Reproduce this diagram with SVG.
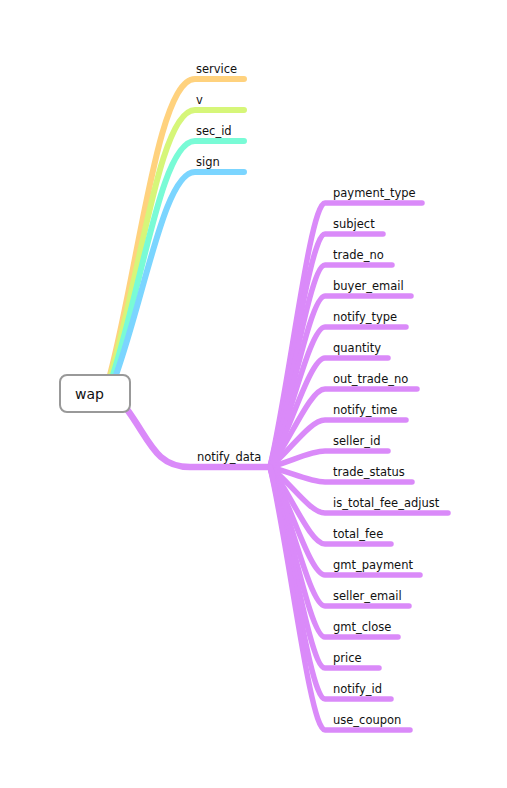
<svg xmlns="http://www.w3.org/2000/svg" width="507" height="788" viewBox="0 0 507 788">
<style>
.b{fill:none;stroke-linecap:round;stroke-linejoin:round}
.top{stroke-width:6}
.ch{stroke:#DA8AF9;stroke-width:5.5}
.nd{stroke:#DA8AF9;stroke-width:6.5}
text{font-family:"DejaVu Sans","Liberation Sans",sans-serif;font-size:11.5px;fill:#111}
.root{font-size:14px}
</style>
<rect width="507" height="788" fill="#fff"/>
<g id="connectors">
<path class="b top" stroke="#FFD27E" d="M110 375 C140 260,158 79,195 79 L244 79"/>
<path class="b top" stroke="#D6F679" d="M111 375 C141 270,160 110,195 110 L244 110"/>
<path class="b top" stroke="#79FBD6" d="M113 375 C143 280,162 141,195 141 L244 141"/>
<path class="b top" stroke="#7BD5FF" d="M116 375 C146 290,165 172,195 172 L244 172"/>
<path class="b nd" d="M126 408 C150 440,155 467,190 467 L270 467"/>
<path class="b ch" d="M270 467 C290 380,310 203,325 203 L422 203"/>
<path class="b ch" d="M270 467 C290 390,310 234,325 234 L383 234"/>
<path class="b ch" d="M270 467 C290 400,310 265,325 265 L392 265"/>
<path class="b ch" d="M270 467 C290 410,310 296,325 296 L411 296"/>
<path class="b ch" d="M270 467 C290 420,310 327,325 327 L406 327"/>
<path class="b ch" d="M270 467 C290 431,310 358,325 358 L388 358"/>
<path class="b ch" d="M270 467 C290 441,310 389,325 389 L417 389"/>
<path class="b ch" d="M270 467 C290 451,310 420,325 420 L406 420"/>
<path class="b ch" d="M270 467 C290 462,310 451,325 451 L388 451"/>
<path class="b ch" d="M270 467 C290 472,310 482,325 482 L412 482"/>
<path class="b ch" d="M270 467 C290 482,310 513,325 513 L448 513"/>
<path class="b ch" d="M270 467 C290 492,310 544,325 544 L391 544"/>
<path class="b ch" d="M270 467 C290 502,310 575,325 575 L420 575"/>
<path class="b ch" d="M270 467 C290 513,310 606,325 606 L409 606"/>
<path class="b ch" d="M270 467 C290 523,310 637,325 637 L398 637"/>
<path class="b ch" d="M270 467 C290 533,310 668,325 668 L379 668"/>
<path class="b ch" d="M270 467 C290 543,310 699,325 699 L391 699"/>
<path class="b ch" d="M270 467 C290 554,310 730,325 730 L410 730"/>
</g>
<g id="wap"><rect x="60" y="375" width="70" height="37" rx="7" fill="#fff" stroke="#999" stroke-width="2"/><text class="root" x="75" y="399">wap</text></g>
<g id="service"><text x="196" y="73">service</text></g>
<g id="v"><text x="196" y="104">v</text></g>
<g id="sec_id"><text x="196" y="135">sec_id</text></g>
<g id="sign"><text x="196" y="166">sign</text></g>
<g id="notify_data"><text x="197" y="461">notify_data</text></g>
<g id="payment_type"><text x="333" y="197">payment_type</text></g>
<g id="subject"><text x="333" y="228">subject</text></g>
<g id="trade_no"><text x="333" y="259">trade_no</text></g>
<g id="buyer_email"><text x="333" y="290">buyer_email</text></g>
<g id="notify_type"><text x="333" y="321">notify_type</text></g>
<g id="quantity"><text x="333" y="352">quantity</text></g>
<g id="out_trade_no"><text x="333" y="383">out_trade_no</text></g>
<g id="notify_time"><text x="333" y="414">notify_time</text></g>
<g id="seller_id"><text x="333" y="445">seller_id</text></g>
<g id="trade_status"><text x="333" y="476">trade_status</text></g>
<g id="is_total_fee_adjust"><text x="333" y="507">is_total_fee_adjust</text></g>
<g id="total_fee"><text x="333" y="538">total_fee</text></g>
<g id="gmt_payment"><text x="333" y="569">gmt_payment</text></g>
<g id="seller_email"><text x="333" y="600">seller_email</text></g>
<g id="gmt_close"><text x="333" y="631">gmt_close</text></g>
<g id="price"><text x="333" y="662">price</text></g>
<g id="notify_id"><text x="333" y="693">notify_id</text></g>
<g id="use_coupon"><text x="333" y="724">use_coupon</text></g>
</svg>
